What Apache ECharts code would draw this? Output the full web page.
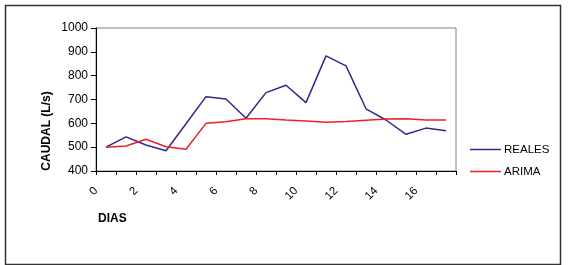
<!DOCTYPE html>
<html>
<head>
<meta charset="utf-8">
<script src="https://cdn.jsdelivr.net/npm/echarts@6/dist/echarts.min.js"></script>
<style>
  html, body { margin: 0; padding: 0; background: #fff; }
  #main { width: 570px; height: 265px; }
</style>
</head>
<body>
<div id="main"></div>
<script>
// dias (posición en el eje x) y caudales
var dias = [0.5, 1.5, 2.5, 3.5, 4.5, 5.5, 6.5, 7.5, 8.5, 9.5, 10.5, 11.5, 12.5, 13.5, 14.5, 15.5, 16.5, 17.5];
var reales = [500, 543, 509, 485, 598, 712, 702, 621, 729, 760, 687, 883, 841, 661, 614, 554, 580, 569];
var arima = [500, 505, 533, 502, 491, 600, 607, 619, 619, 614, 610, 605, 608, 613, 618, 619, 614, 614];
var xLabels = [0, 2, 4, 6, 8, 10, 12, 14, 16];
var yTicks = [400, 500, 600, 700, 800, 900, 1000];

function pares(ys) {
    return dias.map(function (d, i) { return [d, ys[i]]; });
}

var chart = echarts.init(document.getElementById('main'));
var fuente = 'Liberation Sans, Arial, sans-serif';

var option = {
    animation: false,
    textStyle: { fontFamily: fuente },
    grid: {
        left: 96, right: 114, top: 28, bottom: 94,
        show: true,
        borderColor: '#808080',
        borderWidth: 1
    },
    legend: {
        orient: 'vertical',
        left: 465,
        top: 138,
        icon: 'rect',
        itemWidth: 31,
        itemHeight: 1.5,
        itemGap: 9,
        textStyle: { fontSize: 11.5, color: '#000', fontFamily: fuente, lineHeight: 13, padding: [0, 0, 0, -2] },
        data: ['REALES', 'ARIMA']
    },
    xAxis: {
        type: 'value',
        min: 0,
        max: 18,
        interval: 1,
        splitLine: { show: false },
        axisLine: { lineStyle: { color: '#000', width: 1 } },
        axisTick: { show: true, length: 4, lineStyle: { color: '#000' } },
        axisLabel: {
            rotate: 45,
            margin: 18,
            fontSize: 11.5,
            color: '#000',
            padding: [0, 0, 0, 0],
            formatter: function (v) {
                return xLabels.indexOf(v) >= 0 ? String(v) : '';
            }
        }
    },
    yAxis: {
        type: 'value',
        min: yTicks[0],
        max: yTicks[yTicks.length - 1],
        interval: 100,
        splitLine: { show: false },
        axisLine: { show: true, lineStyle: { color: '#000', width: 1 } },
        axisTick: { show: true, length: 5, lineStyle: { color: '#000' } },
        axisLabel: {
            fontSize: 12,
            color: '#000',
            margin: 8,
            formatter: function (v) { return String(v); }
        }
    },
    graphic: [
        {
            type: 'rect',
            left: 3, top: 3,
            shape: { width: 555, height: 259 },
            style: { fill: 'none', stroke: '#333', lineWidth: 1.5 },
            silent: true
        },
        {
            type: 'text',
            x: 47, y: 131,
            rotation: Math.PI / 2,
            style: {
                text: 'CAUDAL (L/s)',
                font: 'bold 12px ' + fuente,
                fill: '#000',
                align: 'center',
                verticalAlign: 'middle'
            }
        },
        {
            type: 'text',
            x: 98, y: 219,
            style: {
                text: 'DIAS',
                font: 'bold 12px ' + fuente,
                fill: '#000',
                align: 'left',
                verticalAlign: 'middle'
            }
        }
    ],
    series: [
        {
            name: 'REALES',
            type: 'line',
            symbol: 'none',
            lineStyle: { color: '#2b2b8c', width: 1.5 },
            itemStyle: { color: '#2b2b8c' },
            data: pares(reales)
        },
        {
            name: 'ARIMA',
            type: 'line',
            symbol: 'none',
            lineStyle: { color: '#ee2222', width: 1.5 },
            itemStyle: { color: '#ee2222' },
            data: pares(arima)
        }
    ]
};

chart.setOption(option);
</script>
</body>
</html>
